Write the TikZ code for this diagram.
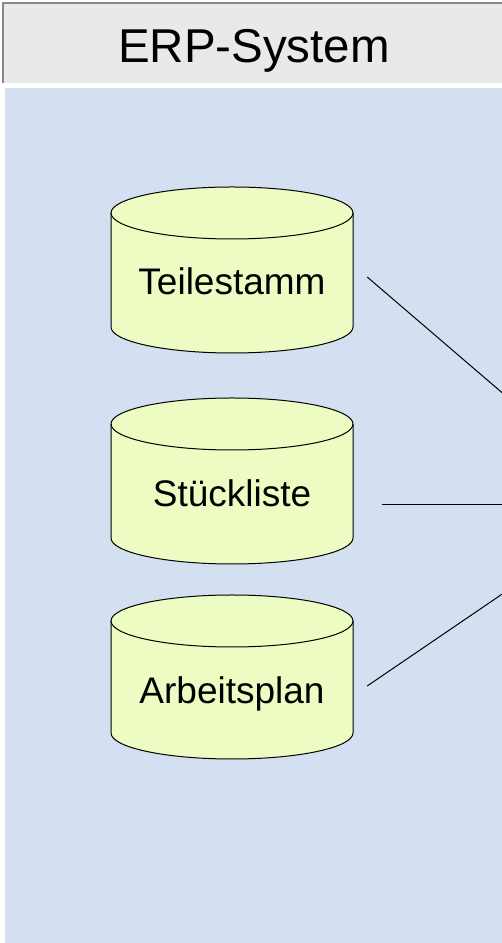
\documentclass[tikz,border=0pt]{standalone}
\usepackage{fontspec}
\setmainfont{Liberation Sans}

\definecolor{panelblue}{RGB}{212,223,242}
\definecolor{headgray}{RGB}{233,233,233}
\definecolor{bordergray}{RGB}{136,136,136}
\definecolor{dbfill}{RGB}{236,252,194}

\tikzset{
  dbhold/.style={draw=none, minimum width=242pt, minimum height=166pt, inner sep=0pt},
  dbshape/.style={draw=black, line width=1pt, fill=dbfill},
  dblabel/.style={anchor=base, font=\fontsize{37}{44}\selectfont},
  link/.style={draw=black, line width=1pt}
}

\begin{document}
\begin{tikzpicture}[x=1pt, y=1pt]
\useasboundingbox (0,0) rectangle (502,943);
\clip (0,0) rectangle (502,943);

% header
\fill[headgray] (3,940) rectangle (520,860);
\draw[bordergray, line width=2pt] (3,860) -- (3,940) -- (520,940);
\node[anchor=base, font=\fontsize{47.5}{56}\selectfont] (title) at (254,880) {ERP-System};

% panel
\fill[panelblue] (5,855) rectangle (520,0);

% data stores
\node[dbhold] (teileDB) at (232,673) {};
\draw[dbshape] (111,730) -- (111,616) arc[start angle=180, end angle=360, x radius=121, y radius=26] -- (353,730) arc[start angle=0, end angle=180, x radius=121, y radius=26] -- cycle;
\draw[dbshape, fill=none] (111,730) arc[start angle=180, end angle=360, x radius=121, y radius=26];
\node[dblabel] (teile) at (232,648) {Teilestamm};

\node[dbhold] (stueckDB) at (232,462) {};
\draw[dbshape] (111,519) -- (111,405) arc[start angle=180, end angle=360, x radius=121, y radius=26] -- (353,519) arc[start angle=0, end angle=180, x radius=121, y radius=26] -- cycle;
\draw[dbshape, fill=none] (111,519) arc[start angle=180, end angle=360, x radius=121, y radius=26];
\node[dblabel] (stueck) at (232,436) {Stückliste};

\node[dbhold] (planDB) at (232,266) {};
\draw[dbshape] (111,322) -- (111,210) arc[start angle=180, end angle=360, x radius=121, y radius=26] -- (353,322) arc[start angle=0, end angle=180, x radius=121, y radius=26] -- cycle;
\draw[dbshape, fill=none] (111,322) arc[start angle=180, end angle=360, x radius=121, y radius=26];
\node[dblabel] (plan) at (232,239) {Arbeitsplan};

% links to the right
\coordinate (hub) at (633,438);
\draw[link] (teileDB.east) ++(14,-7) -- (hub);
\draw[link] (stueckDB.east) ++(29,-24) -- (hub);
\draw[link] (planDB.east) ++(14,-9) -- (hub);

\end{tikzpicture}
\end{document}
